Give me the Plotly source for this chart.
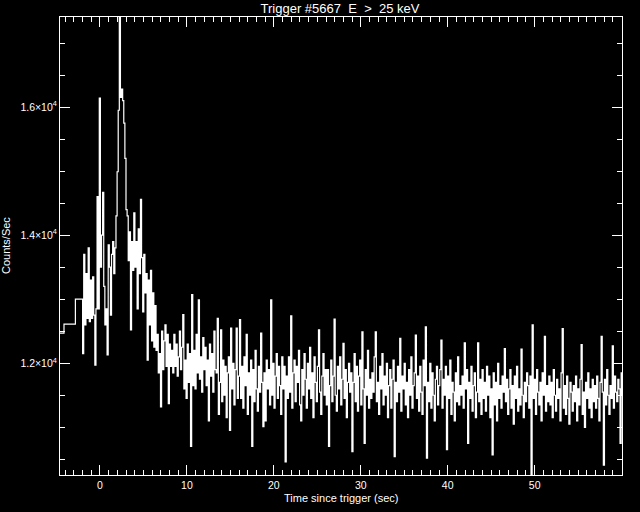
import plotly.graph_objects as go

# Pre-trigger 1.024 s style steps (start times, counts)
pre_starts = [-4.6, -4.14, -2.83]
pre_counts = [12470, 12610, 13000]

# Fine-resolution burst data
burst_start = -2.0
bin_width = 0.128
burst_counts = [
    12150, 13700, 12600, 13400, 12700, 13800, 12650, 13300, 12700, 13350, 12750, 11970, 12850, 14600, 12850, 16140, 13500, 14000, 14670, 13200,
    12600, 12850, 12130, 13850, 13500, 12750, 13700, 13900, 13400, 13800, 14300, 14990, 15950, 17900, 16150, 16280, 16100, 15750, 15200, 14400,
    14300, 13600, 14050, 12520, 13900, 13450, 14350, 13500, 13900, 12850, 14100, 13400, 14560, 13650, 12800, 13700, 13100, 13400, 12050, 13300,
    12600, 13450, 12350, 13100, 12250, 12900, 12200, 12450, 11850, 12150, 11320, 12500, 11900, 12350, 12600, 11950, 12450, 11370, 12300, 11950,
    12200, 11850, 12450, 11950, 12300, 11800, 12100, 12500, 11900, 12250, 12760, 11600, 12050, 11450, 12300, 11700, 12150, 10700, 13070, 11650,
    12200, 11600, 12450, 11850, 12990, 11750, 12100, 11550, 12400, 11900, 12250, 11650, 12050, 11100, 12300, 11800, 12150, 11550, 12500, 11900,
    11850, 12700, 11200, 11700, 12520, 11400, 12050, 11500, 11950, 11150, 11850, 12100, 10950, 12550, 11600, 12000, 11350, 11900, 12550, 11450,
    11800, 12680, 11450, 11950, 11300, 12100, 11650, 12450, 11200, 11850, 11500, 12050, 10700, 11900, 11400, 12200, 11600, 11250, 11950, 11550,
    12470, 11700, 11010, 11850, 11100, 12050, 11600, 11900, 11350, 12990, 11500, 12000, 11300, 11800, 12150, 11450, 11950, 11650, 11200, 12100,
    11600, 11950, 10460, 11800, 11450, 12100, 11550, 12740, 11300, 11850, 12050, 11400, 11950, 11700, 12200, 11350, 11100, 11900, 11500, 12150,
    11750, 11300, 12000, 11600, 12250, 11450, 11850, 11150, 12100, 11700, 11400, 11950, 12520, 11550, 11200, 11800, 12150, 11500, 11900, 11350,
    11900, 10700, 11650, 12050, 11400, 11800, 12690, 11500, 11250, 11950, 11600, 12100, 11350, 11750, 12310, 11450, 11900, 11150, 11700, 12000,
    11550, 11850, 10620, 11700, 12150, 11400, 11950, 11250, 11800, 12050, 11350, 12490, 11600, 10750, 11900, 11500, 12200, 11300, 11750, 11450,
    11850, 11550, 12100, 12490, 11400, 11700, 11200, 11950, 11600, 12150, 11350, 11800, 11500, 12000, 11150, 11650, 11900, 11300, 11750, 12050,
    10540, 11700, 11400, 11950, 11550, 12390, 11250, 11800, 11600, 12000, 11350, 11700, 11150, 11900, 11500, 12100, 11300, 11650, 11850, 12440,
    11450, 11800, 11250, 11950, 11550, 11200, 12050, 11650, 12570, 10520, 11700, 11400, 12000, 11300, 11850, 11500, 11100, 11750, 11950, 11350,
    11650, 11900, 12360, 11300, 11750, 11500, 11950, 10650, 11800, 11450, 12050, 11200, 11700, 11550, 11100, 11850, 11400, 12100, 11350, 11650,
    11500, 11800, 11300, 12320, 11600, 11900, 10750, 11700, 11450, 11950, 11250, 11650, 11850, 11150, 11550, 12320, 11400, 11750, 11200, 11900,
    11450, 11700, 11250, 11950, 11500, 11800, 11150, 11600, 10570, 11850, 11350, 11700, 11100, 12000, 11450, 11650, 11300, 11800, 11550, 12230,
    11400, 11750, 11200, 11600, 11900, 11300, 11650, 11050, 11800, 11450, 11950, 11250, 11600, 11350, 12220, 11500, 11150, 11700, 11400, 11850,
    11650, 11300, 11800, 10255, 12600, 11450, 11750, 11200, 11900, 11550, 11350, 11700, 11100, 11850, 11500, 12420, 11250, 11650, 11400, 11800,
    11350, 11700, 11150, 11900, 11500, 11250, 11750, 11450, 11600, 11100, 11850, 12540, 11300, 11650, 11200, 11800, 11450, 11050, 11700, 11550,
    11250, 11650, 11400, 11800, 11100, 11600, 11350, 11750, 12290, 11200, 11550, 11000, 11700, 11450, 11850, 11300, 11600, 11150, 11750, 11400,
    11650, 11300, 11800, 11450, 11100, 11700, 12420, 11550, 10410, 11750, 11350, 11900, 11500, 11200, 11650, 11450, 12270, 11300, 11800, 11550,
    11400, 11750, 11600, 10750, 11850, 11500, 11700,
]

x_ticks = [0, 10, 20, 30, 40, 50]
y_ticks = [12000, 14000, 16000]
y_tick_text = ["1.2×10<sup>4</sup>", "1.4×10<sup>4</sup>", "1.6×10<sup>4</sup>"]

times = list(pre_starts) + [burst_start + i * bin_width for i in range(len(burst_counts))]
times.append(burst_start + len(burst_counts) * bin_width)
counts = list(pre_counts) + list(burst_counts) + [burst_counts[-1]]

fig = go.Figure()
fig.add_trace(go.Scatter(x=times, y=counts, mode="lines", line=dict(color="white", width=1.2, shape="hv"),
                         showlegend=False, hoverinfo="skip"))

font = "Liberation Sans"
axis_common = dict(showgrid=False, zeroline=False, showline=True, linecolor="white", linewidth=1,
                   mirror="ticks", ticks="inside", ticklen=10, tickcolor="white", tickwidth=1,
                   tickfont=dict(family=font, size=10.5, color="white"))

fig.update_layout(
    width=640, height=512,
    paper_bgcolor="black", plot_bgcolor="black",
    margin=dict(l=60, r=18, t=17, b=37),
    title=dict(text="Trigger #5667  E  >  25 keV", x=340 / 640, xanchor="center", y=1 - 8.5 / 512,
               yanchor="middle", font=dict(family=font, size=13, color="white")),
    xaxis=dict(range=[-4.6, 60.05], tickmode="array", tickvals=x_ticks,
               minor=dict(tickmode="linear", tick0=0, dtick=1, ticks="inside", ticklen=5, tickcolor="white"),
               **axis_common),
    yaxis=dict(range=[10255, 17406], tickmode="array", tickvals=y_ticks, ticktext=y_tick_text,
               minor=dict(tickmode="linear", tick0=0, dtick=500, ticks="inside", ticklen=5, tickcolor="white"),
               **axis_common),
    annotations=[
        dict(text="Time since trigger (sec)", xref="paper", yref="paper", x=0.5, y=(475 - 498) / 458,
             xanchor="center", yanchor="middle", showarrow=False,
             font=dict(family=font, size=11, color="white")),
        dict(text="Counts/Sec", xref="paper", yref="paper", x=(6 - 60) / 562, y=0.5, textangle=-90,
             xanchor="center", yanchor="middle", showarrow=False,
             font=dict(family=font, size=11, color="white")),
    ],
)

fig.write_html("out.html", config={"displayModeBar": False},
               post_script="document.body.style.margin='0';")
